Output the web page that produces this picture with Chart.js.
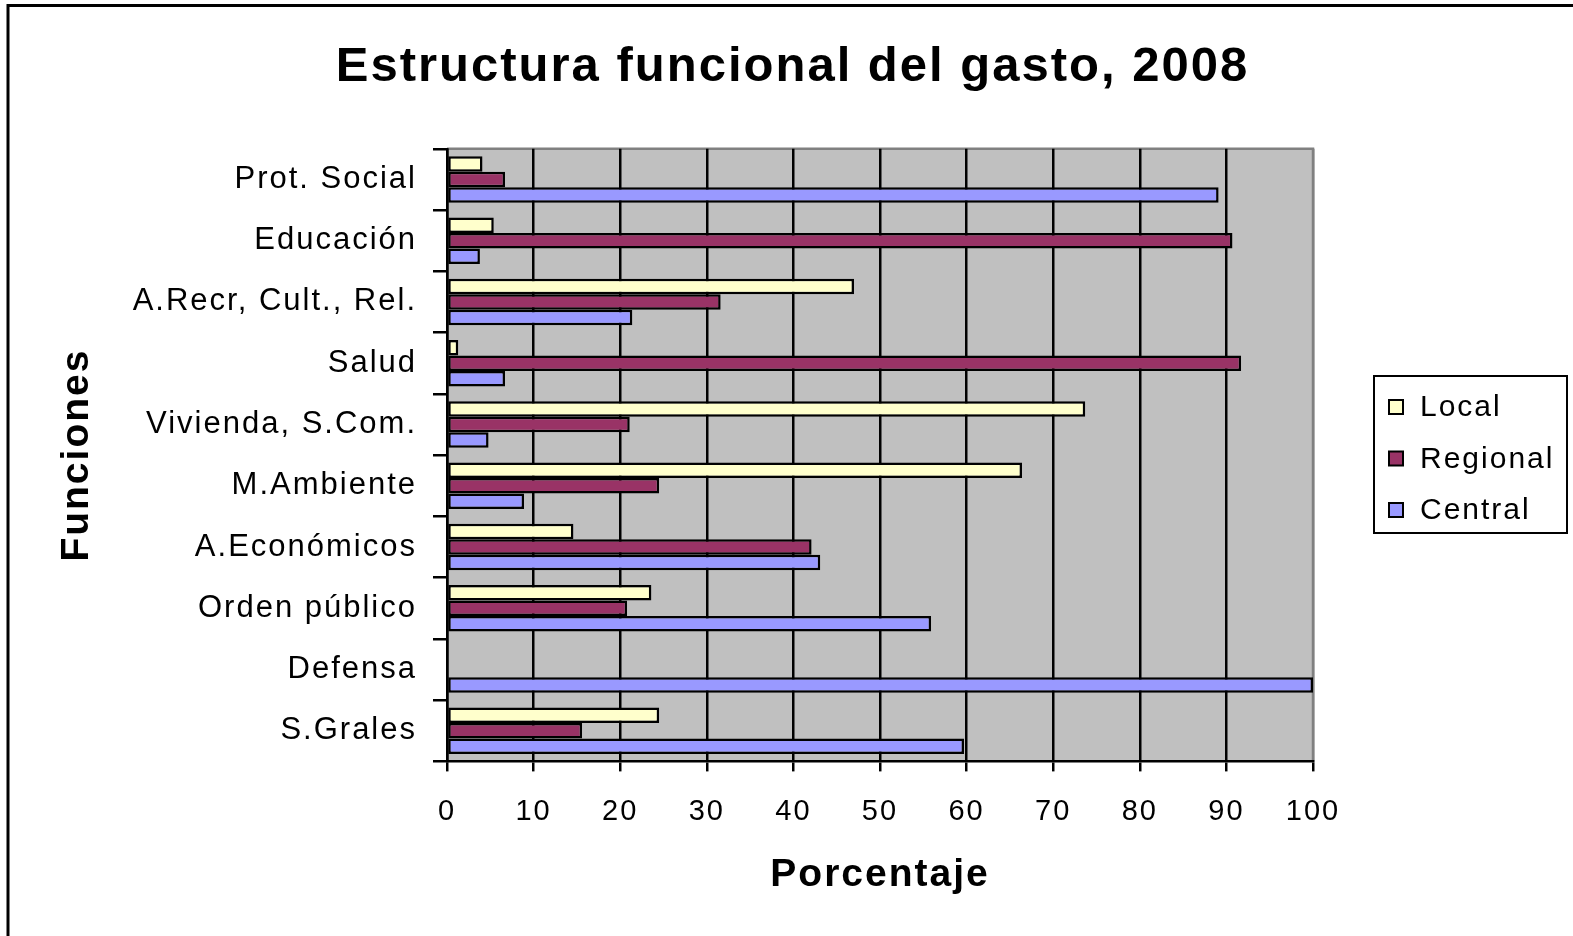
<!DOCTYPE html>
<html>
<head>
<meta charset="utf-8">
<script src="https://cdn.jsdelivr.net/npm/chart.js@4"></script>
<style>
  html, body { margin: 0; padding: 0; background: #fff; }
  #wrap { width: 1573px; height: 936px; }
</style>
</head>
<body>
<div id="wrap"><canvas id="gastoChart"></canvas></div>
<script>
const funciones = ['Prot. Social', 'Educación', 'A.Recr, Cult., Rel.', 'Salud', 'Vivienda, S.Com.',
  'M.Ambiente', 'A.Económicos', 'Orden público', 'Defensa', 'S.Grales'];
const local = [4.1, 5.4, 47.0, 1.3, 73.7, 66.4, 14.6, 23.6, 0, 24.5];
const regional = [6.7, 90.7, 31.6, 91.7, 21.1, 24.5, 42.1, 20.8, 0, 15.6];
const central = [89.1, 3.8, 21.4, 6.7, 4.8, 8.9, 43.1, 55.9, 100, 59.7];

const FONT = "'Liberation Sans', Arial, sans-serif";

// plot background, outer frame and boxed legend (Excel style)
const excelLook = {
  id: 'excelLook',
  beforeDraw(chart) {
    const { ctx, chartArea: a } = chart;
    ctx.save();
    ctx.fillStyle = '#C0C0C0';
    ctx.fillRect(a.left, a.top, a.right - a.left, a.bottom - a.top);
    ctx.strokeStyle = '#808080';
    ctx.lineWidth = 2.5;
    ctx.beginPath();
    ctx.moveTo(a.left, a.top);
    ctx.lineTo(a.right, a.top);
    ctx.lineTo(a.right, a.bottom);
    ctx.stroke();
    ctx.restore();
    ctx.letterSpacing = '2px';
  },
  afterDraw(chart) {
    const ctx = chart.ctx;
    ctx.save();
    // frame
    ctx.strokeStyle = '#000';
    ctx.lineWidth = 3;
    ctx.beginPath();
    ctx.moveTo(8, 936);
    ctx.lineTo(8, 5.5);
    ctx.lineTo(1573, 5.5);
    ctx.stroke();
    // legend
    ctx.fillStyle = '#fff';
    ctx.fillRect(1374, 376, 193, 157);
    ctx.lineWidth = 2;
    ctx.strokeRect(1374, 376, 193, 157);
    ctx.font = '30px ' + FONT;
    ctx.textBaseline = 'middle';
    ctx.textAlign = 'left';
    ctx.letterSpacing = '2px';
    chart.data.datasets.forEach((ds, i) => {
      const y = 407 + i * 51.5;
      ctx.fillStyle = ds.backgroundColor;
      ctx.fillRect(1389, y - 7, 14, 14);
      ctx.strokeStyle = '#000';
      ctx.lineWidth = 2;
      ctx.strokeRect(1389, y - 7, 14, 14);
      ctx.fillStyle = '#000';
      ctx.fillText(ds.label, 1420, y + 1);
    });
    ctx.restore();
  }
};

const ctx = document.getElementById('gastoChart').getContext('2d');
const gastoChart = new Chart(ctx, {
  type: 'bar',
  data: {
    labels: funciones,
    datasets: [
      { label: 'Local', data: local, backgroundColor: '#FFFFCC' },
      { label: 'Regional', data: regional, backgroundColor: '#993366' },
      { label: 'Central', data: central, backgroundColor: '#9999FF' },
    ],
  },
  options: {
    indexAxis: 'y',
    responsive: true,
    maintainAspectRatio: false,
    animation: false,
    datasets: {
      bar: {
        borderColor: '#000',
        borderWidth: 2.5,
        borderSkipped: false,
        categoryPercentage: 0.76,
        barPercentage: 1.0,
      },
    },
    layout: {
      padding: { left: 12, right: 0, top: 0, bottom: 0 },
    },
    scales: {
      x: {
        min: 0,
        max: 100,
        grid: {
          color: (c) => (c.tick && c.tick.value === 100 ? '#808080' : '#000'),
          tickColor: '#000',
          lineWidth: 2.5,
          tickLength: 10,
        },
        border: { color: '#000', width: 2.5 },
        ticks: {
          stepSize: 10,
          padding: 23,
          color: '#000',
          font: { family: FONT, size: 29 },
        },
        title: {
          display: true,
          text: 'Porcentaje',
          color: '#000',
          font: { family: FONT, size: 39, weight: 'bold' },
          padding: { top: 0, bottom: 37 },
        },
      },
      y: {
        afterFit: (scale) => { scale.width = 447 - 12; },
        grid: {
          offset: true,
          drawOnChartArea: false,
          color: '#000',
          lineWidth: 2.5,
          tickLength: 14,
        },
        border: { color: '#000', width: 2.5 },
        ticks: {
          padding: 16,
          color: '#000',
          font: { family: FONT, size: 31 },
        },
        title: {
          display: true,
          text: 'Funciones',
          color: '#000',
          font: { family: FONT, size: 39, weight: 'bold' },
          padding: { top: 42, bottom: 0 },
        },
      },
      // empty box on the right that leaves room for the legend
      espacio: {
        type: 'linear',
        position: 'right',
        afterFit: (scale) => { scale.width = 1573 - 1313; },
        grid: { display: false },
        border: { display: false },
        ticks: { display: false },
      },
    },
    plugins: {
      legend: { display: false },
      tooltip: { enabled: false },
      title: {
        display: true,
        text: 'Estructura funcional del gasto, 2008',
        color: '#000',
        font: { family: FONT, size: 49, weight: 'bold' },
        padding: { top: 38, bottom: 52 },
      },
    },
  },
  plugins: [excelLook],
});
</script>
</body>
</html>
